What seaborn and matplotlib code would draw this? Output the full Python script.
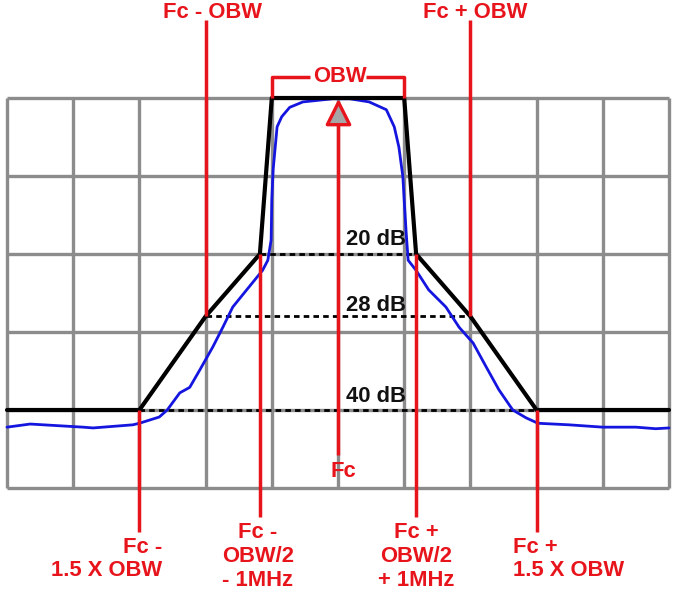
"""Spectrum emission mask diagram (OBW, 20/28/40 dB points)."""

import matplotlib.pyplot as plt
import numpy as np
import pandas as pd
import seaborn as sns

sns.set_theme(style="white")
plt.rcParams["font.family"] = ["Liberation Sans", "DejaVu Sans"]

RED = "#e8141c"
BLUE = "#1515e0"
GRID = "#8c8c8c"
FS = 15.8

# ---------------------------------------------------------------------------
# Data (x in screen divisions from Fc, y in dB below the reference level)
# ---------------------------------------------------------------------------

grid_x = np.arange(-5, 6)
grid_db = np.arange(-50, 1, 10)

mask_x = [-5, -3, -2, -1.18, -1, 1, 1.18, 2, 3, 5]
mask_db = [-40, -40, -28, -20, 0, 0, -20, -28, -40, -40]

trace_x = [
    -5.00, -4.65, -3.85, -3.70, -3.10, -3.00, -2.70, -2.58, -2.39, -2.24,
    -2.09, -1.89, -1.74, -1.59, -1.38, -1.14, -1.06, -1.01, -1.00, -0.98,
    -0.92, -0.85, -0.73, -0.53, -0.08, 0.18, 0.47, 0.73, 0.85, 0.92,
    0.98, 1.00, 1.03, 1.06, 1.18, 1.37, 1.63, 1.83, 2.04, 2.24,
    2.43, 2.64, 2.84, 3.02, 3.49, 4.00, 4.50, 4.80, 5.00,
]
trace_db = [
    -42.2, -41.8, -42.2, -42.3, -41.9, -41.7, -40.9, -40.0, -37.8, -37.1,
    -34.9, -31.9, -29.4, -26.8, -24.6, -22.1, -20.8, -18.2, -13.1, -9.2,
    -3.7, -2.4, -1.2, -0.5, -0.1, -0.1, -0.5, -1.5, -3.7, -6.3,
    -10.1, -13.1, -17.3, -20.8, -22.1, -24.6, -26.8, -29.4, -31.4, -34.5,
    -37.4, -40.0, -41.0, -41.7, -41.9, -42.2, -42.2, -42.4, -42.3,
]

# attenuation levels: dashed reference lines with their label
level_db = [-20, -28, -40]
level_half_width = [1.18, 2.0, 3.0]
level_labels = ["20 dB", "28 dB", "40 dB"]
level_label_db = [-18.1, -26.6, -38.3]

# red marker lines: x, start, end
top_marker_x = [-2.0, 2.0]
top_marker_from = [-28, -28]
top_marker_to = [10.0, 10.0]
top_marker_labels = ["Fc - OBW", "Fc + OBW"]
top_label_x = [-1.90, 2.07]

bottom_marker_x = [-3.0, -1.18, 1.18, 3.0]
bottom_marker_from = [-40, -20, -20, -40]
bottom_marker_to = [-55.6, -53.7, -53.7, -55.6]
bottom_labels = ["Fc -\n1.5 X OBW", "Fc -\nOBW/2\n- 1MHz",
                 "Fc +\nOBW/2\n+ 1MHz", "Fc +\n1.5 X OBW"]
bottom_label_x = [-2.66, -1.21, 1.18, 2.64]
bottom_label_db = [-59.1, -58.8, -58.8, -59.1]
bottom_label_ha = ["right", "center", "center", "left"]

fc_marker_db = -1.9
fc_line_db = [-3.2, -45.8]
obw_edges = [-1.0, 1.0]
obw_bracket_db = 2.7

# ---------------------------------------------------------------------------
# Figure
# ---------------------------------------------------------------------------

fig = plt.figure(figsize=(6.76, 5.94), dpi=100)
ax = fig.add_axes([0, 0, 1, 1])
ax.set_xlim(-338 / 66.2, 338 / 66.2)
ax.set_ylim(-496 / 7.8, 98 / 7.8)
ax.axis("off")

# screen graticule
ax.vlines(grid_x, grid_db[0], grid_db[-1], color=GRID, lw=2.4, zorder=1)
ax.hlines(grid_db, grid_x[0], grid_x[-1], color=GRID, lw=2.4, zorder=1)

# dashed attenuation levels
for db, hw, lab, ldb in zip(level_db, level_half_width, level_labels, level_label_db):
    ax.hlines(db, -hw, hw, color="black", lw=2.0, linestyles=(0, (2.0, 1.5)), zorder=2)
    ax.text(0.58, ldb, lab, ha="center", va="center", fontsize=FS,
            fontweight="bold", color="#111111", zorder=6)

# mask and measured trace
mask = pd.DataFrame({"x": mask_x, "db": mask_db})
trace = pd.DataFrame({"x": trace_x, "db": trace_db})
sns.lineplot(data=trace, x="x", y="db", sort=False, estimator=None,
             color=BLUE, lw=2.0, ax=ax, zorder=3)
sns.lineplot(data=mask, x="x", y="db", sort=False, estimator=None,
             color="black", lw=3.0, ax=ax, zorder=4)

# red markers
ax.vlines(top_marker_x, top_marker_from, top_marker_to, color=RED, lw=2.5, zorder=5)
ax.vlines(bottom_marker_x, bottom_marker_from, bottom_marker_to,
          color=RED, lw=2.5, zorder=5)
ax.vlines(0, fc_line_db[0], fc_line_db[1], color=RED, lw=2.5, zorder=5)
for lab, x in zip(top_marker_labels, top_label_x):
    ax.text(x, 10.96, lab, ha="center", va="center", fontsize=FS,
            fontweight="bold", color=RED, clip_on=False)
for lab, x, db, ha in zip(bottom_labels, bottom_label_x, bottom_label_db,
                          bottom_label_ha):
    ax.text(x, db, lab, ha=ha, va="center", multialignment=ha, fontsize=FS,
            fontweight="bold", color=RED, linespacing=1.18, clip_on=False)
ax.text(0.08, -47.9, "Fc", ha="center", va="center", fontsize=FS,
        fontweight="bold", color=RED, zorder=6)

# Fc marker
ax.scatter([0], [fc_marker_db], marker="^", s=260, color="#a6a6a6",
           edgecolor=RED, linewidth=2.4, zorder=7)

# OBW bracket
ax.plot([obw_edges[0], obw_edges[0], -0.42], [0, obw_bracket_db, obw_bracket_db],
        color=RED, lw=2.5, zorder=5, solid_capstyle="butt")
ax.plot([0.42, obw_edges[1], obw_edges[1]], [obw_bracket_db, obw_bracket_db, 0],
        color=RED, lw=2.5, zorder=5, solid_capstyle="butt")
ax.text(0.03, obw_bracket_db, "OBW", ha="center", va="center", fontsize=FS,
        fontweight="bold", color=RED, zorder=6)

fig.savefig("out.png", dpi=100)
